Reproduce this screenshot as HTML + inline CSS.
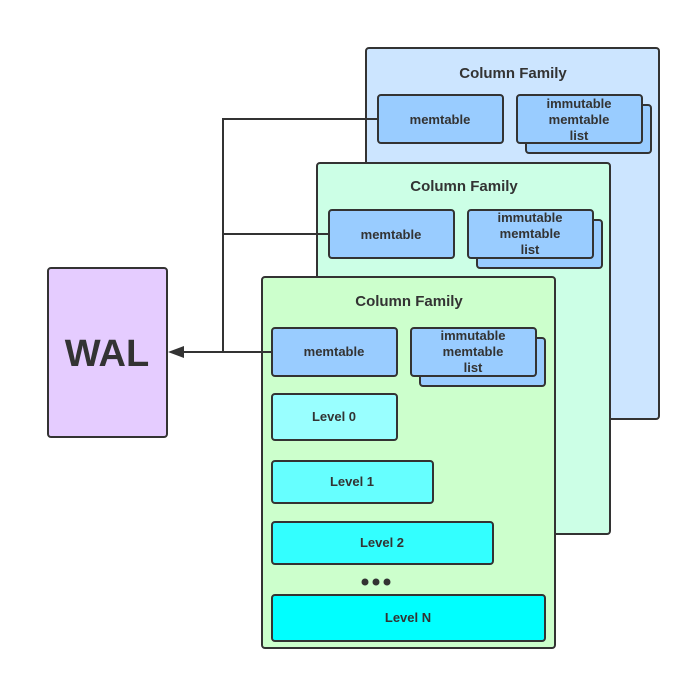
<!DOCTYPE html>
<html><head><meta charset="utf-8"><style>html,body{margin:0;padding:0;background:#fff}svg{display:block}text{font-family:"Liberation Sans",sans-serif;font-weight:bold;fill:#333;text-anchor:middle}</style></head>
<body>
<svg width="691" height="680" viewBox="0 0 691 680" xmlns="http://www.w3.org/2000/svg">
<g stroke="#333" stroke-width="2">
<rect x="366" y="48" width="293" height="371" rx="3" fill="#cce5ff"/>
<rect x="378" y="95" width="125" height="48" rx="3" fill="#99ccff"/>
<rect x="526" y="105" width="125" height="48" rx="3" fill="#99ccff"/>
<rect x="517" y="95" width="125" height="48" rx="3" fill="#99ccff"/>

<rect x="317" y="163" width="293" height="371" rx="3" fill="#ccffe6"/>
<rect x="329" y="210" width="125" height="48" rx="3" fill="#99ccff"/>
<rect x="477" y="220" width="125" height="48" rx="3" fill="#99ccff"/>
<rect x="468" y="210" width="125" height="48" rx="3" fill="#99ccff"/>

<rect x="262" y="277" width="293" height="371" rx="3" fill="#ccffcc"/>
<rect x="272" y="328" width="125" height="48" rx="3" fill="#99ccff"/>
<rect x="420" y="338" width="125" height="48" rx="3" fill="#99ccff"/>
<rect x="411" y="328" width="125" height="48" rx="3" fill="#99ccff"/>

<rect x="272" y="394" width="125" height="46" rx="3" fill="#99ffff"/>
<rect x="272" y="461" width="161" height="42" rx="3" fill="#66ffff"/>
<rect x="272" y="522" width="221" height="42" rx="3" fill="#33ffff"/>
<rect x="272" y="595" width="273" height="46" rx="3" fill="#00ffff"/>

<rect x="48" y="268" width="119" height="169" rx="3" fill="#e5ccff"/>
<polyline points="378,119 223,119 223,352" fill="none"/>
<polyline points="329,234 223,234" fill="none"/>
<polyline points="272,352 182,352" fill="none"/>
</g>
<polygon points="168,352 184,346 184,358" fill="#333"/>
<g fill="#333"><circle cx="365" cy="582" r="3.5"/><circle cx="376" cy="582" r="3.5"/><circle cx="387" cy="582" r="3.5"/></g>

<text x="513" y="78" font-size="15">Column Family</text>
<text x="440" y="124" font-size="13">memtable</text>
<text x="579" y="108" font-size="13">immutable</text>
<text x="579" y="124" font-size="13">memtable</text>
<text x="579" y="140" font-size="13">list</text>

<text x="464" y="191" font-size="15">Column Family</text>
<text x="391" y="239" font-size="13">memtable</text>
<text x="530" y="222" font-size="13">immutable</text>
<text x="530" y="238" font-size="13">memtable</text>
<text x="530" y="254" font-size="13">list</text>

<text x="409" y="306" font-size="15">Column Family</text>
<text x="334" y="356" font-size="13">memtable</text>
<text x="473" y="340" font-size="13">immutable</text>
<text x="473" y="356" font-size="13">memtable</text>
<text x="473" y="372" font-size="13">list</text>

<text x="334" y="421" font-size="13">Level 0</text>
<text x="352" y="486" font-size="13">Level 1</text>
<text x="382" y="547" font-size="13">Level 2</text>
<text x="408" y="622" font-size="13">Level N</text>
<text x="107" y="366" font-size="38">WAL</text>
</svg>
</body></html>
